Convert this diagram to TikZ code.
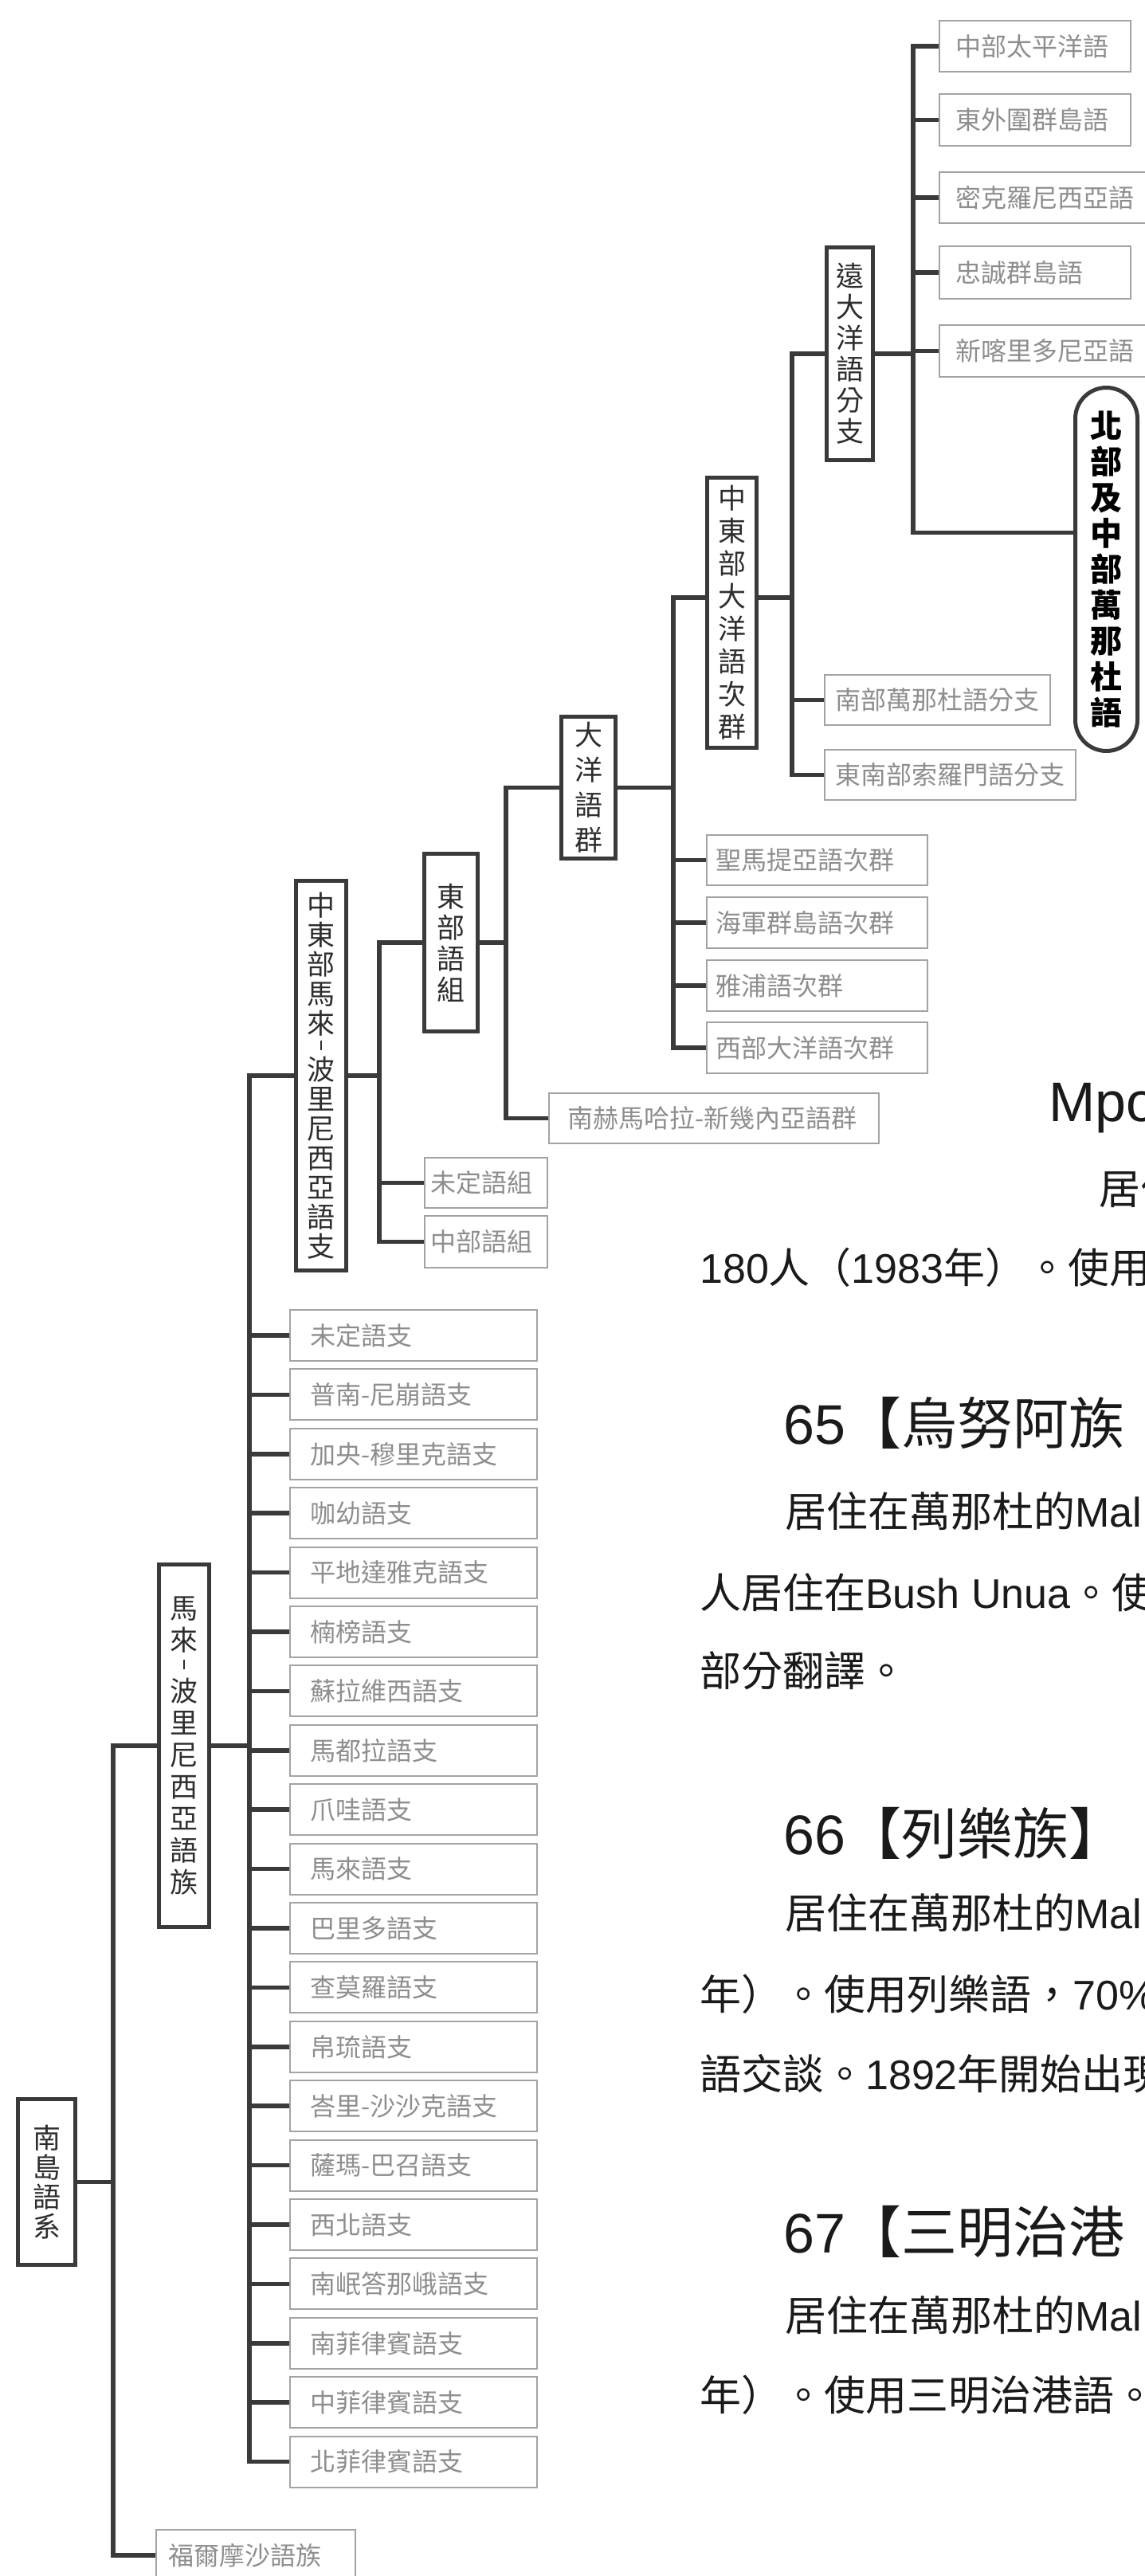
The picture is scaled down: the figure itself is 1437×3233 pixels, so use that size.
\documentclass[tikz,border=0pt]{standalone}
\usepackage{graphicx}
\usepackage{fontspec}
\setmainfont{Liberation Sans}
\newfontfamily\cjk{Noto Sans CJK TC}
\usetikzlibrary{calc}
\pgfdeclarelayer{bg}
\pgfsetlayers{bg,main}
\definecolor{lnc}{HTML}{3A3A3A}
\definecolor{lbc}{HTML}{A3A3A3}
\definecolor{ltx}{HTML}{8E8E8E}
\definecolor{dtx}{HTML}{2E2E2E}
\definecolor{btx}{HTML}{1A1A1A}
\tikzset{
  conn/.style={draw=lnc, line width=5.5pt, line cap=rect},
  lbox/.style={draw=lbc, line width=2pt, fill=white, text=ltx, anchor=north west, align=left, inner ysep=0pt, inner xsep=#1, font=\cjk\fontsize{32}{36}\selectfont},
  lbox/.default=20pt,
  dbox/.style={draw=lnc, line width=5pt, fill=white, text=dtx, anchor=north west, align=center, inner sep=0pt},
  vfont/.style={font=\cjk\fontsize{35}{#1}\selectfont},
  txt/.style={anchor=base west, inner sep=0pt, text=btx},
  hd/.style={txt, font=\fontsize{70}{80}\selectfont},
  bd/.style={txt, font=\fontsize{52}{60}\selectfont},
}
% hyphen set in vertical text: a short vertical stroke
\newcommand\vhyph{\raisebox{8pt}{\rule{2.5pt}{12pt}}}
\begin{document}
\begin{tikzpicture}[x=1pt,y=-1pt]
\useasboundingbox (0,0) rectangle (1437,3233);
\begin{pgfonlayer}{bg}
\fill[white] (0,0) rectangle (1437,3233);
\end{pgfonlayer}
% x positions of the vertical connector lines
\coordinate (x0) at (142,0);
\coordinate (x1) at (313,0);
\coordinate (x2) at (476,0);
\coordinate (x3) at (635,0);
\coordinate (x4) at (845,0);
\coordinate (x5) at (994,0);
\coordinate (x6) at (1146,0);
\coordinate (y750) at (0,750);

% ---- top cluster
\node[lbox, minimum width=240pt, minimum height=64pt, text width=200pt] (t1) at (1178,25) {中部太平洋語};
\node[lbox, minimum width=240pt, minimum height=65pt, text width=200pt] (t2) at (1178,117) {東外圍群島語};
\node[lbox, minimum width=272pt, minimum height=64pt, text width=232pt] (t3) at (1178,215) {密克羅尼西亞語};
\node[lbox, minimum width=240pt, minimum height=66pt, text width=200pt] (t4) at (1178,308) {忠誠群島語};
\node[lbox, minimum width=272pt, minimum height=65pt, text width=232pt] (t5) at (1178,407) {新喀里多尼亞語};
\node[dbox, rounded corners=39pt, font=\cjk\bfseries\fontsize{40}{45}\selectfont, text=black, minimum width=78pt, minimum height=456pt] (wan) at (1347,484) {北\\部\\及\\中\\部\\萬\\那\\杜\\語};
\coordinate (wanc) at ([yshift=46pt]wan.west);

\node[dbox, vfont=39, minimum width=58pt, minimum height=267pt] (ro) at (1035,308) {遠\\大\\洋\\語\\分\\支};
\node[dbox, vfont=41, minimum width=62pt, minimum height=339pt] (ceoc) at (885,597) {中\\東\\部\\大\\洋\\語\\次\\群};
\node[lbox=13pt, minimum width=283pt, minimum height=63pt, text width=257pt] (svan) at (1034,846) {南部萬那杜語分支};
\node[lbox=13pt, minimum width=315pt, minimum height=63pt, text width=289pt] (sesol) at (1034,940) {東南部索羅門語分支};

\node[dbox, vfont=44, minimum width=68pt, minimum height=178pt] (oc) at (702,897) {大\\洋\\語\\群};
\node[lbox=11pt, minimum width=277pt, minimum height=63pt, text width=255pt] (stm) at (886,1047) {聖馬提亞語次群};
\node[lbox=11pt, minimum width=277pt, minimum height=64pt, text width=255pt] (adm) at (886,1125) {海軍群島語次群};
\node[lbox=11pt, minimum width=277pt, minimum height=64pt, text width=255pt] (yap) at (886,1204) {雅浦語次群};
\node[lbox=11pt, minimum width=277pt, minimum height=64pt, text width=255pt] (woc) at (886,1282) {西部大洋語次群};

\node[dbox, vfont=39, minimum width=67pt, minimum height=223pt] (emp) at (530,1069) {東\\部\\語\\組};
\node[lbox=23pt, minimum width=414pt, minimum height=63pt, text width=368pt] (shw) at (688,1371) {南赫馬哈拉-新幾內亞語群};

\node[dbox, vfont=37, minimum width=63pt, minimum height=489pt] (cemp) at (369,1103) {中\\東\\部\\馬\\來\\[-8pt]\vhyph\\[-8pt]波\\里\\尼\\西\\亞\\語\\支};
\node[lbox=7pt, minimum width=154pt, minimum height=63pt, text width=140pt] (undg) at (532,1452) {未定語組};
\node[lbox=7pt, minimum width=154pt, minimum height=65pt, text width=140pt] (cmg) at (532,1525) {中部語組};

\foreach \t [count=\i from 0] in {未定語支,普南-尼崩語支,加央-穆里克語支,咖幼語支,平地達雅克語支,楠榜語支,蘇拉維西語支,馬都拉語支,爪哇語支,馬來語支,巴里多語支,查莫羅語支,帛琉語支,峇里-沙沙克語支,薩瑪-巴召語支,西北語支,南岷答那峨語支,南菲律賓語支,中菲律賓語支,北菲律賓語支}
  \node[lbox=25pt, minimum width=310pt, minimum height=64pt, text width=260pt] (L\i) at (363,{1643+74.4*\i}) {\t};

\node[dbox, vfont=40, minimum width=63pt, minimum height=455pt] (mp) at (197,1961) {馬\\來\\[-8pt]\vhyph\\[-8pt]波\\里\\尼\\西\\亞\\語\\族};
\node[dbox, vfont=37, minimum width=72pt, minimum height=208pt] (root) at (20,2632) {南\\島\\語\\系};
\node[lbox=15pt, minimum width=250pt, minimum height=64pt, text width=220pt] (form) at (195,3174) {福爾摩沙語族};

% ---- connectors
\begin{pgfonlayer}{bg}
\draw[conn] (ro.east) -- (ro.east -| x6);
\draw[conn] (t1.west -| x6) -- (wanc -| x6) -- (wanc);
\foreach \n in {t1,t2,t3,t4,t5} \draw[conn] (\n.west -| x6) -- (\n.west);

\draw[conn] (ceoc.east |- y750) -- (x5 |- y750);
\draw[conn] (ro.west) -- (ro.west -| x5) -- (sesol.west -| x5) -- (sesol.west);
\draw[conn] (svan.west -| x5) -- (svan.west);

\draw[conn] (oc.east) -- (oc.east -| x4);
\draw[conn] (ceoc.west |- y750) -- (x4 |- y750) -- (woc.west -| x4) -- (woc.west);
\foreach \n in {stm,adm,yap} \draw[conn] (\n.west -| x4) -- (\n.west);

\draw[conn] (emp.east) -- (emp.east -| x3);
\draw[conn] (oc.west) -- (oc.west -| x3) -- (shw.west -| x3) -- (shw.west);

\draw[conn] (cemp.east) -- (cemp.east -| x2);
\draw[conn] (emp.west) -- (emp.west -| x2) -- (cmg.west -| x2) -- (cmg.west);
\draw[conn] (undg.west -| x2) -- (undg.west);

\draw[conn] (mp.east) -- (mp.east -| x1);
\draw[conn] (cemp.west) -- (cemp.west -| x1) -- (L19.west -| x1) -- (L19.west);
\foreach \i in {0,...,18} \draw[conn] (L\i.west -| x1) -- (L\i.west);

\draw[conn] (root.east) -- (root.east -| x0);
\draw[conn] (mp.west) -- (mp.west -| x0) -- (form.west -| x0) -- (form.west);
\end{pgfonlayer}

% ---- page text
\node[hd] (h0) at (1316,1407) {Mpo};
\node[bd] (b01) at (1379,1511) {\cjk 居住};
\node[bd] (b02) at (878,1610) {180{\cjk 人（}1983{\cjk 年）。使用}};
\node[hd] (h1) at (983,1812) {65{\cjk 【烏努阿族}};
\node[bd] (b11) at (985,1916) {{\cjk 居住在萬那杜的}Mal};
\node[bd] (b12) at (878,2018) {{\cjk 人居住在}Bush Unua{\cjk 。使}};
\node[bd] (b13) at (878,2116) {{\cjk 部分翻譯。}};
\node[hd] (h2) at (983,2327) {66{\cjk 【列樂族】}};
\node[bd] (b21) at (985,2420) {{\cjk 居住在萬那杜的}Mal};
\node[bd] (b22) at (878,2522) {{\cjk 年）。使用列樂語，}70\%};
\node[bd] (b23) at (878,2622) {{\cjk 語交談。}1892{\cjk 年開始出現}};
\node[hd] (h3) at (983,2827) {67{\cjk 【三明治港}};
\node[bd] (b31) at (985,2925) {{\cjk 居住在萬那杜的}Mal};
\node[bd] (b32) at (878,3025) {{\cjk 年）。使用三明治港語。}};
\end{tikzpicture}
\end{document}
